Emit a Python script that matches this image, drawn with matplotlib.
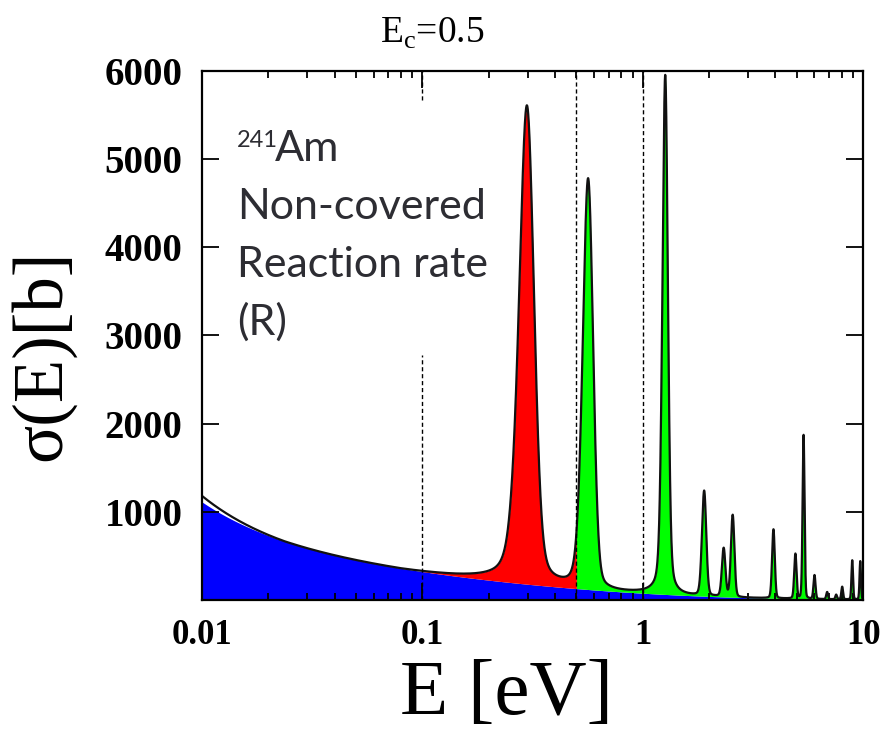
import numpy as np
import matplotlib
matplotlib.use("Agg")
import matplotlib.pyplot as plt
from matplotlib.ticker import LogLocator, NullFormatter

# smooth (non-resonant) part
bg_E = [0.01, 0.02, 0.03, 0.05, 0.1, 0.183, 0.5, 1.0, 2.0, 4.0, 10.0]
blue_top = [1077, 770, 600, 453, 306, 227, 136, 80, 40, 18, 5]    # top of blue area
line_smooth = [1100, 760, 580, 430, 275, 200, 120, 70, 40, 18, 5]  # black line without peaks

# resonances: energy [eV], height of black line at peak [b], width [eV], lorentz fraction
res_E = [0.298, 0.565, 1.265, 1.90, 2.33, 2.56, 3.92, 4.93, 5.37, 6.02, 6.87, 7.55, 8.04, 8.93, 9.71]
res_peak = [5590, 4760, 5950, 1230, 580, 960, 800, 520, 1870, 280, 90, 60, 150, 450, 440]
res_fwhm = [0.055, 0.072, 0.085, 0.10, 0.10, 0.11, 0.13, 0.14, 0.13, 0.15, 0.15, 0.15, 0.17, 0.17, 0.17]
res_eta = [0.3, 0.2, 0.3, 0.15, 0.15, 0.15, 0.15, 0.15, 0.15, 0.15, 0.15, 0.15, 0.15, 0.15, 0.15]

x_ticks = [0.01, 0.1, 1, 10]
x_ticklabels = ['0.01', '0.1', '1', '10']
y_ticks = [1000, 2000, 3000, 4000, 5000, 6000]
E_cut = [0.1, 0.5, 1.0]


def smooth(vals):
    # smooth log-log curve through the read points
    c = np.polyfit(np.log10(bg_E), np.log10(vals), 3)
    return 10 ** np.polyval(c, lE)


E = np.logspace(-2, 1, 30000)
lE = np.log10(E)
blue = smooth(blue_top)
base = smooth(line_smooth)
total = base.copy()
for e0, pk, w, eta in zip(res_E, res_peak, res_fwhm, res_eta):
    amp = pk - np.interp(np.log10(e0), lE, base)
    x = (E - e0) / w
    total = total + amp * (eta / (1 + 4 * x**2) + (1 - eta) * np.exp(-4 * np.log(2) * x**2))
total = np.maximum(total, blue)

fig = plt.figure(figsize=(8.94, 7.36), dpi=100)
ax = fig.add_axes([0.2260, 0.1848, 0.7394, 0.7188])

ax.fill_between(E, 0, blue, color='#0000ff', lw=0)
red = (E >= 0.1) & (E <= 0.5)
ax.fill_between(E[red], blue[red], total[red], color='#ff0000', lw=0)
grn = E >= 0.5
ax.fill_between(E[grn], blue[grn], total[grn], color='#00ff00', lw=0)
ax.plot(E, total, color='#111111', lw=1.6)

# cut lines; the one at 0.1 is hidden behind the text box
ax.axvline(E_cut[0], ymin=0.0, ymax=0.463, color='k', ls=(0, (3, 2)), lw=1)
ax.axvline(E_cut[0], ymin=0.945, ymax=1.0, color='k', ls=(0, (3, 2)), lw=1)
for ec in E_cut[1:]:
    ax.axvline(ec, color='k', ls=(0, (3, 2)), lw=1)

ax.set_xscale('log')
ax.set_xlim(0.01, 10)
ax.set_ylim(0, 6000)
ax.set_xticks(x_ticks)
ax.set_xticklabels(x_ticklabels)
ax.xaxis.set_minor_locator(LogLocator(base=10, subs=np.arange(2, 10)))
ax.xaxis.set_minor_formatter(NullFormatter())
ax.set_yticks(y_ticks)
ax.set_yticklabels([str(v) for v in y_ticks])

for s in ax.spines.values():
    s.set_linewidth(1.6)
ax.tick_params(which='major', direction='in', length=12, width=1.3, top=True, right=True)
ax.tick_params(which='minor', direction='in', length=5, width=1.3, top=True, right=True)
ax.tick_params(axis='x', which='major', pad=14)
ax.tick_params(axis='y', which='major', pad=14)
for lab in ax.get_xticklabels():
    lab.set_fontfamily('Liberation Serif')
    lab.set_fontweight('bold')
    lab.set_fontsize(25)
for lab in ax.get_yticklabels():
    lab.set_fontfamily('Liberation Serif')
    lab.set_fontweight('bold')
    lab.set_fontsize(28)

fig.text(506 / 894, 1 - 695 / 736, 'E [eV]', family='Liberation Serif', fontsize=57,
         ha='center', va='center')
fig.text(42 / 894, 1 - 355 / 736, 'σ(E)[b]', family='Liberation Serif', fontsize=51,
         ha='center', va='center', rotation=90)
fig.text(432 / 894, 1 - 33 / 736, r'E$_\mathregular{c}$=0.5', family='Liberation Serif',
         fontsize=27, ha='center', va='center')

txt = dict(family='Lato', color='#2d2d33', transform=ax.transAxes, va='baseline')
ax.text(0.053, 0.857, '241', fontsize=17, **txt)
ax.text(0.110, 0.830, 'Am', fontsize=31, **txt)
ax.text(0.053, 0.720, 'Non-covered', fontsize=31, **txt)
ax.text(0.053, 0.611, 'Reaction rate', fontsize=31, **txt)
ax.text(0.053, 0.501, '(R)', fontsize=31, **txt)

fig.savefig('out.png', dpi=100)
